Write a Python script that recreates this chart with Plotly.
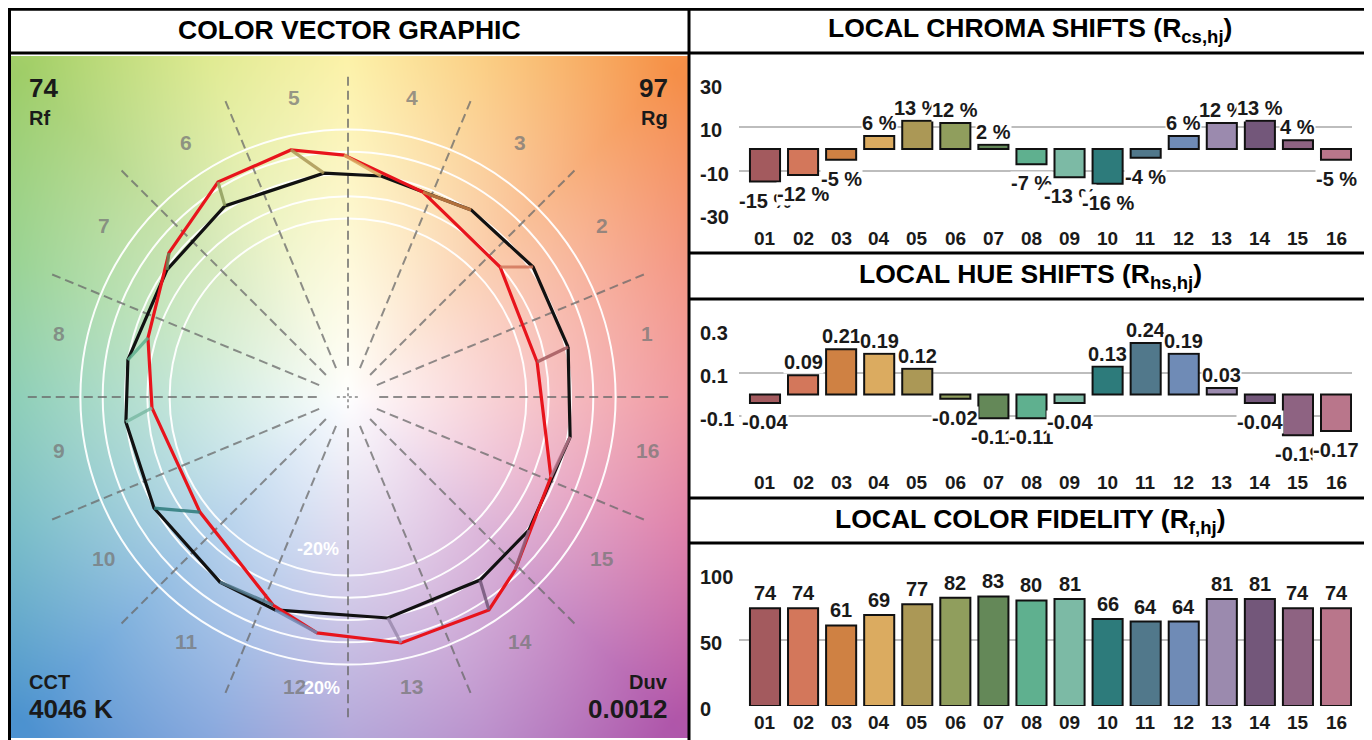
import numpy as np
import zlib, struct, base64
import plotly.graph_objects as go

# page is shown with an 8px body margin -> figure is drawn 8px in from the top-left
OFF = 8
W, H = 1372 - OFF, 740 - OFF

# ---------------- data ----------------
bins = ["01", "02", "03", "04", "05", "06", "07", "08",
        "09", "10", "11", "12", "13", "14", "15", "16"]
chroma_shift = [-15, -12, -5, 6, 13, 12, 2, -7, -13, -16, -4, 6, 12, 13, 4, -5]
hue_shift = [-0.04, 0.09, 0.21, 0.19, 0.12, -0.02, -0.11, -0.11,
             -0.04, 0.13, 0.24, 0.19, 0.03, -0.04, -0.19, -0.17]
fidelity = [74, 74, 61, 69, 77, 82, 83, 80, 81, 66, 64, 64, 81, 81, 74, 74]
bin_colors = ["#a35a5e", "#d3775b", "#cf8143", "#dbab60", "#ab9856", "#909e5d",
              "#648858", "#5fb08f", "#7cbaa5", "#2d7b7b", "#51788b", "#6f8bb6",
              "#9b8aae", "#73577a", "#8e6382", "#b9768b"]

# colour vector graphic: reference (black) and test (red) vertices, normalised units
ref_x = [0.987, 0.830, 0.552, 0.148, -0.108, -0.552, -0.812, -0.987,
         -0.996, -0.870, -0.574, -0.327, 0.179, 0.592, 0.812, 0.996]
ref_y = [0.224, 0.583, 0.839, 0.991, 1.004, 0.857, 0.570, 0.166,
         -0.112, -0.498, -0.830, -0.955, -0.991, -0.821, -0.596, -0.179]
test_x = [0.848, 0.682, 0.336, -0.018, -0.256, -0.583, -0.803, -0.897,
          -0.879, -0.664, -0.336, -0.139, 0.238, 0.632, 0.749, 0.910]
test_y = [0.157, 0.583, 0.919, 1.085, 1.108, 0.964, 0.646, 0.265,
          -0.049, -0.516, -0.933, -1.058, -1.103, -0.955, -0.776, -0.359]

Rf, Rg, CCT, Duv = 74, 97, 4046, "0.0012"
circle_levels = [0.8, 0.9, 1.0, 1.1, 1.2]
chroma_ticks = [-30, -10, 10, 30]
hue_ticks = [-0.1, 0.1, 0.3]
fid_ticks = [0, 50, 100]

FONT = "Liberation Sans, Arial, sans-serif"
xpos = list(range(len(bins)))


def px(x):
    return (x - OFF) / W


def py(y):
    return 1 - (y - OFF) / H


# ---------------- background image for CVG ----------------
CX, CY, UNIT = 348, 397, 223
IX0, IY0, IW, IH = 10, 56, 678, 682
stop_ang = [0, 22.5, 45, 67.5, 90, 112.5, 135, 157.5, 180, 202.5, 225, 247.5, 270, 292.5, 315, 337.5]
stop_col = np.array([
    [236, 118, 128], [242, 126, 100], [246, 144, 72], [250, 194, 102],
    [252, 238, 140], [216, 230, 120], [160, 206, 104], [128, 200, 120],
    [102, 190, 158], [86, 172, 186], [76, 146, 208], [108, 148, 214],
    [156, 140, 206], [172, 118, 192], [176, 86, 170], [214, 98, 150]], float)
xs = np.arange(IW) + IX0 + 0.5 - CX
ys = CY - (np.arange(IH) + IY0 + 0.5)
XX, YY = np.meshgrid(xs, ys)
th = np.degrees(np.arctan2(YY, XX)) % 360
rr = np.hypot(XX, YY)
ang_ext = np.array(stop_ang + [360])
img = np.zeros((IH, IW, 3))
t = np.clip(rr / 460.0, 0, 1) ** 0.95
for c in range(3):
    colc = np.interp(th, ang_ext, np.append(stop_col[:, c], stop_col[0, c]))
    img[:, :, c] = 255 * (1 - t) + colc * t
img = np.clip(img, 0, 255).astype(np.uint8)


def png_uri(arr):
    h, w, _ = arr.shape
    raw = b"".join(b"\x00" + arr[i].tobytes() for i in range(h))

    def chunk(tag, data):
        return (struct.pack(">I", len(data)) + tag + data +
                struct.pack(">I", zlib.crc32(tag + data) & 0xffffffff))
    png = (b"\x89PNG\r\n\x1a\n" +
           chunk(b"IHDR", struct.pack(">IIBBBBB", w, h, 8, 2, 0, 0, 0)) +
           chunk(b"IDAT", zlib.compress(raw, 9)) + chunk(b"IEND", b""))
    return "data:image/png;base64," + base64.b64encode(png).decode()


fig = go.Figure()

# ---------------- CVG traces ----------------
fig.add_trace(go.Scatter(x=ref_x + ref_x[:1], y=ref_y + ref_y[:1], mode="lines",
                         line=dict(color="#111111", width=3.2), xaxis="x", yaxis="y",
                         hoverinfo="skip"))
fig.add_trace(go.Scatter(x=test_x + test_x[:1], y=test_y + test_y[:1], mode="lines",
                         line=dict(color="#e8141c", width=3.2), xaxis="x", yaxis="y",
                         hoverinfo="skip"))
for i in range(16):
    fig.add_trace(go.Scatter(x=[ref_x[i], test_x[i]], y=[ref_y[i], test_y[i]], mode="lines",
                             line=dict(color=bin_colors[i], width=3.2), opacity=0.85,
                             xaxis="x", yaxis="y", hoverinfo="skip"))

# ---------------- bars ----------------
lbl_font = dict(family=FONT, size=20, color="#1a1a1a")
for vals, ax in [(chroma_shift, "2"), (hue_shift, "3"), (fidelity, "4")]:
    fig.add_trace(go.Bar(x=xpos, y=vals, marker=dict(color=bin_colors,
                                                     line=dict(color="#111111", width=2)),
                         width=0.79, xaxis="x" + ax, yaxis="y" + ax, hoverinfo="skip"))

annotations = []
shapes = []

# bar value labels
for i, v in enumerate(chroma_shift):
    annotations.append(dict(x=xpos[i], y=v, xref="x2", yref="y2", text=f"<b>{v} %</b>",
                            showarrow=False, yshift=(-19 if v < 0 else 13),
                            font=lbl_font, bgcolor="white", borderpad=0))
for i, v in enumerate(hue_shift):
    annotations.append(dict(x=xpos[i], y=v, xref="x3", yref="y3", text=f"<b>{v:g}</b>",
                            showarrow=False, yshift=(-19 if v < 0 else 13),
                            font=lbl_font, bgcolor="white", borderpad=0))
for i, v in enumerate(fidelity):
    annotations.append(dict(x=xpos[i], y=v, xref="x4", yref="y4", text=f"<b>{v}</b>",
                            showarrow=False, yshift=15,
                            font=lbl_font, bgcolor="white", borderpad=0))

# y tick labels (left aligned like the original)
for ticks, ax in [(chroma_ticks, "y2"), (hue_ticks, "y3"), (fid_ticks, "y4")]:
    for tv in ticks:
        annotations.append(dict(x=px(698), y=tv, xref="paper", yref=ax, text=f"<b>{tv:g}</b>",
                                showarrow=False, xanchor="left", yanchor="middle", yshift=-3,
                                font=dict(family=FONT, size=20, color="#1a1a1a")))
# category labels
for ax, yy in [("x2", 238), ("x3", 482), ("x4", 722)]:
    for i, b in enumerate(bins):
        annotations.append(dict(x=xpos[i], y=py(yy), xref=ax, yref="paper", text=f"<b>{b}</b>",
                                showarrow=False, yanchor="middle",
                                font=dict(family=FONT, size=19, color="#1a1a1a")))

# headers
hdr = dict(family=FONT, size=26.5, color="#000000")
for txt, xx, yy in [("<b>COLOR VECTOR GRAPHIC</b>", 349, 30),
                    ("<b>LOCAL CHROMA SHIFTS (R<sub>cs,hj</sub>)</b>", 1030, 30),
                    ("<b>LOCAL HUE SHIFTS (R<sub>hs,hj</sub>)</b>", 1030, 276),
                    ("<b>LOCAL COLOR FIDELITY (R<sub>f,hj</sub>)</b>", 1030, 521)]:
    annotations.append(dict(x=px(xx), y=py(yy), xref="paper", yref="paper", text=txt,
                            showarrow=False, font=hdr, xanchor="center", yanchor="middle"))

# CVG corner texts
big = dict(family=FONT, size=26, color="#1a1a1a")
small = dict(family=FONT, size=20, color="#1a1a1a")
for txt, xx, yy, f, anc in [(f"<b>{Rf}</b>", 27, 88, big, "left"),
                            ("<b>Rf</b>", 27, 118, small, "left"),
                            (f"<b>{Rg}</b>", 670, 88, big, "right"),
                            ("<b>Rg</b>", 670, 118, small, "right"),
                            ("<b>CCT</b>", 27, 682, small, "left"),
                            (f"<b>{CCT} K</b>", 27, 709, big, "left"),
                            ("<b>Duv</b>", 670, 682, small, "right"),
                            (f"<b>{Duv}</b>", 670, 709, big, "right")]:
    annotations.append(dict(x=px(xx), y=py(yy), xref="paper", yref="paper", text=txt,
                            showarrow=False, font=f, xanchor=anc, yanchor="middle"))

# hue bin numbers around the CVG
for j in range(16):
    a = np.radians((j + 0.5) * 22.5)
    annotations.append(dict(x=1.345 * np.cos(a), y=1.345 * np.sin(a), xref="x", yref="y",
                            text=f"<b>{j + 1}</b>", showarrow=False, xshift=5, yshift=5,
                            font=dict(family=FONT, size=21, color="rgba(120,120,120,0.75)")))
for txt, xx, yy in [("<b>-20%</b>", -0.135, -0.68), ("<b>20%</b>", -0.117, -1.305)]:
    annotations.append(dict(x=xx, y=yy, xref="x", yref="y", text=txt, showarrow=False,
                            font=dict(family=FONT, size=18, color="white")))

# circles and dashed radial lines
for lv in circle_levels:
    shapes.append(dict(type="circle", xref="x", yref="y", x0=-lv, x1=lv, y0=-lv, y1=lv,
                       line=dict(color="rgba(255,255,255,0.95)", width=2), layer="below"))
for k in range(16):
    a = np.radians(k * 22.5)
    shapes.append(dict(type="line", xref="x", yref="y",
                       x0=0.14 * np.cos(a), y0=0.14 * np.sin(a),
                       x1=1.44 * np.cos(a), y1=1.44 * np.sin(a),
                       line=dict(color="rgba(105,105,105,0.75)", width=2, dash="9px,5px"),
                       layer="below"))
for (x0, y0, x1, y1) in [(-0.05, 0, 0.05, 0), (0, -0.05, 0, 0.05)]:
    shapes.append(dict(type="line", xref="x", yref="y", x0=x0, y0=y0, x1=x1, y1=y1,
                       line=dict(color="rgba(140,140,140,0.8)", width=2, dash="dot"),
                       layer="below"))

# panel frames
bl = dict(color="black", width=3)
for (x0, y0, x1, y1) in [(8, 9.3, 1371, 9.3), (9.5, 7, 9.5, 742), (1370, 7, 1370, 742),
                         (8, 53, 1371, 53), (689, 7, 689, 742),
                         (689, 253, 1371, 253), (689, 299, 1371, 299),
                         (689, 498, 1371, 498), (689, 543, 1371, 543)]:
    shapes.append(dict(type="line", xref="paper", yref="paper", x0=px(x0), y0=py(y0),
                       x1=px(x1), y1=py(y1), line=bl, layer="above"))

hidden = dict(visible=False, showgrid=False, zeroline=False, fixedrange=True)
cx0, cx1 = (IX0 - CX) / UNIT, (IX0 + IW - CX) / UNIT
cy0, cy1 = (CY - IY0 - IH) / UNIT, (CY - IY0) / UNIT
bar_x = dict(domain=[px(739), px(1352)], range=[-0.683, 15.42], showticklabels=False,
             showgrid=False, zeroline=False, showline=False, ticks="")


def bar_y(dom, rng, tv):
    return dict(domain=dom, range=rng, tickvals=tv, showticklabels=False, showgrid=True,
                gridcolor="#bdbdbd", gridwidth=2, zeroline=False, showline=False, ticks="")


fig.update_layout(
    width=W, height=H, margin=dict(l=0, r=0, t=0, b=0),
    paper_bgcolor="white", plot_bgcolor="rgba(0,0,0,0)", showlegend=False,
    xaxis=dict(domain=[px(IX0), px(IX0 + IW)], range=[cx0, cx1], **hidden),
    yaxis=dict(domain=[py(IY0 + IH), py(IY0)], range=[cy0, cy1], **hidden),
    xaxis2=dict(anchor="y2", **bar_x),
    yaxis2=dict(anchor="x2", **bar_y([py(214), py(84)], [-30, 30], chroma_ticks)),
    xaxis3=dict(anchor="y3", **bar_x),
    yaxis3=dict(anchor="x3", **bar_y([py(441.8), py(330)], [-0.22, 0.3], hue_ticks)),
    xaxis4=dict(anchor="y4", **bar_x),
    yaxis4=dict(anchor="x4", **bar_y([py(706), py(574)], [0, 100], fid_ticks)),
    images=[dict(source=png_uri(img), xref="paper", yref="paper", x=px(IX0), y=py(IY0),
                 sizex=IW / W, sizey=IH / H, xanchor="left", yanchor="top",
                 sizing="stretch", layer="below")],
    annotations=annotations, shapes=shapes,
)

fig.write_html("out.html")
